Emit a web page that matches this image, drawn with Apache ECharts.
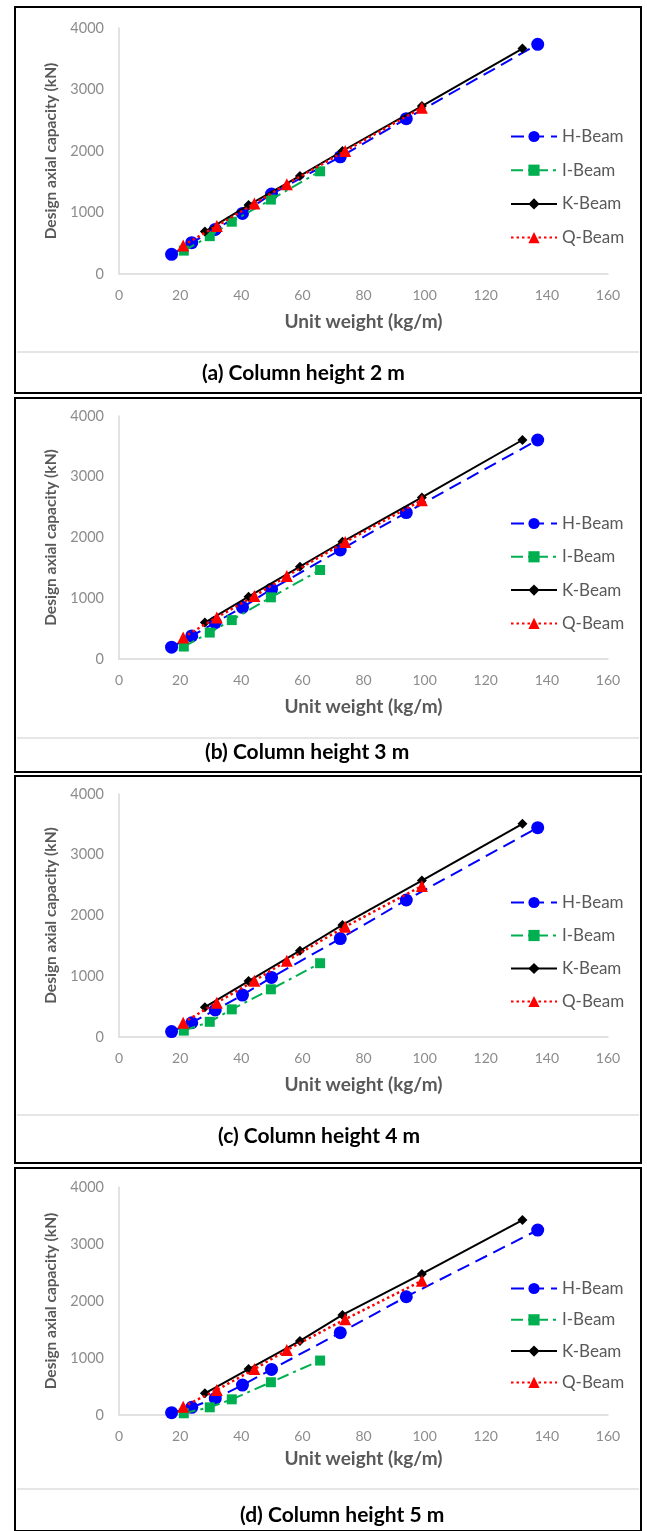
<!DOCTYPE html>
<html>
<head>
<meta charset="utf-8">
<title>Design axial capacity vs unit weight</title>
<script src="https://cdn.jsdelivr.net/npm/echarts@6/dist/echarts.min.js"></script>
<style>
  html, body { margin: 0; padding: 0; background: #fff; }
  #main { width: 647px; height: 1531px; }
</style>
</head>
<body>
<div id="main"></div>
<script>
// series names (legend order)
const beamNames = ['H-Beam', 'I-Beam', 'K-Beam', 'Q-Beam']
const captions = ['(a) Column height 2 m', '(b) Column height 3 m', '(c) Column height 4 m', '(d) Column height 5 m']

// unit weight (kg/m) of each section, same in every panel
const hWeight = [17.2, 23.8, 31.5, 40.4, 49.9, 72.4, 94.0, 137.0]
const iWeight = [21.2, 29.7, 36.9, 49.7, 65.8]
const kWeight = [28.1, 42.4, 59.2, 73.1, 99.1, 132.0]
const qWeight = [21.0, 32.0, 44.3, 54.9, 74.0, 99.1]

// design axial capacity (kN), column height 2 m
const hCap2 = [320, 510, 725, 985, 1300, 1905, 2525, 3735]
const iCap2 = [380, 615, 850, 1210, 1670]
const kCap2 = [690, 1120, 1595, 2000, 2730, 3665]
const qCap2 = [465, 780, 1145, 1460, 2000, 2705]
// 3 m
const hCap3 = [195, 380, 600, 850, 1150, 1795, 2410, 3605]
const iCap3 = [205, 435, 640, 1015, 1465]
const kCap3 = [600, 1025, 1520, 1930, 2660, 3605]
const qCap3 = [355, 685, 1035, 1365, 1925, 2615]
// 4 m
const hCap4 = [90, 235, 445, 690, 980, 1620, 2255, 3445]
const iCap4 = [105, 250, 455, 785, 1215]
const kCap4 = [490, 920, 1420, 1845, 2575, 3510]
const qCap4 = [235, 565, 925, 1255, 1815, 2485]
// 5 m
const hCap5 = [40, 135, 290, 525, 800, 1445, 2075, 3245]
const iCap5 = [30, 135, 275, 575, 955]
const kCap5 = [380, 805, 1300, 1755, 2475, 3420]
const qCap5 = [145, 440, 805, 1140, 1680, 2355]

// axis ranges
const xMin = 0, xMax = 160, xStep = 20
const yMin = 0, yMax = 4000, yStep = 1000

const weights = [hWeight, iWeight, kWeight, qWeight]
const capacity = [
  [hCap2, iCap2, kCap2, qCap2],
  [hCap3, iCap3, kCap3, qCap3],
  [hCap4, iCap4, kCap4, qCap4],
  [hCap5, iCap5, kCap5, qCap5]
]

const font = 'Lato, "Open Sans", sans-serif'
const grey = '#595959'

// look of each series, Excel style
const looks = [
  { color: '#0000ff', symbol: 'circle', size: 13, dash: [13, 7], width: 2 },
  { color: '#00b050', symbol: 'rect', size: 10, dash: [12, 5, 3, 5], width: 2 },
  { color: '#000000', symbol: 'diamond', size: 10, dash: 'solid', width: 2 },
  { color: '#ff0000', symbol: 'triangle', size: 12, dash: [2.5, 3], width: 2.5 }
]

// layout of the four boxed panels
const panels = [
  { top: 7, bottom: 393, gridTop: 28, gridH: 246, legendTop: 123, legendGap: 16.7, sep: 352, capX: 202, capY: 373, nameGap: 38 },
  { top: 398, bottom: 772, gridTop: 416, gridH: 243, legendTop: 510, legendGap: 16.3, sep: 738, capX: 205, capY: 752, nameGap: 38 },
  { top: 776, bottom: 1163, gridTop: 794, gridH: 243, legendTop: 889, legendGap: 16, sep: 1115, capX: 218, capY: 1136, nameGap: 38 },
  { top: 1168, bottom: 1531, gridTop: 1187, gridH: 228, legendTop: 1275, legendGap: 14.3, sep: 1489, capX: 240, capY: 1515, nameGap: 34 }
]

const grid = [], xAxis = [], yAxis = [], legend = [], series = [], graphic = []

panels.forEach((p, n) => {
  grid.push({ left: 119, top: p.gridTop, width: 489, height: p.gridH })
  xAxis.push({
    gridIndex: n, type: 'value', min: xMin, max: xMax, interval: xStep,
    name: 'Unit weight (kg/m)', nameLocation: 'middle', nameGap: p.nameGap,
    nameTextStyle: { color: grey, fontSize: 19, fontWeight: 'bold', fontFamily: font },
    axisLine: { lineStyle: { color: '#d9d9d9', width: 1.5 } },
    axisTick: { show: false },
    splitLine: { show: false },
    axisLabel: { color: '#8c8c8c', fontSize: 14, fontFamily: font, margin: 14 }
  })
  yAxis.push({
    gridIndex: n, type: 'value', min: yMin, max: yMax, interval: yStep,
    name: 'Design axial capacity (kN)', nameLocation: 'middle', nameGap: 60,
    nameTextStyle: { color: grey, fontSize: 15.5, fontWeight: 'bold', fontFamily: font },
    axisLine: { show: true, lineStyle: { color: '#d9d9d9', width: 1.5 } },
    axisTick: { show: false },
    splitLine: { show: false },
    axisLabel: { color: '#8c8c8c', fontSize: 14.5, fontFamily: font, margin: 15, formatter: v => String(v) }
  })
  legend.push({
    orient: 'vertical', left: 505, top: p.legendTop,
    itemWidth: 46, itemHeight: 14, itemGap: p.legendGap,
    selectedMode: false,
    textStyle: { color: grey, fontSize: 17, fontFamily: font },
    data: beamNames
  })
  beamNames.forEach((name, s) => {
    const lk = looks[s]
    const ys = capacity[n][s]
    series.push({
      name: name, type: 'line', xAxisIndex: n, yAxisIndex: n,
      data: weights[s].map((x, i) => [x, ys[i]]),
      symbol: lk.symbol, symbolSize: lk.size, showAllSymbol: true,
      lineStyle: { color: lk.color, type: lk.dash, width: lk.width },
      itemStyle: { color: lk.color },
      z: 2 + s
    })
  })
  // box, separator and caption
  graphic.push({
    type: 'rect', silent: true,
    shape: { x: 15, y: p.top, width: 626, height: p.bottom - p.top },
    style: { fill: null, stroke: '#000', lineWidth: 2 }
  })
  graphic.push({
    type: 'line', silent: true,
    shape: { x1: 17, y1: p.sep, x2: 639, y2: p.sep },
    style: { stroke: '#dedede', lineWidth: 1.5 }
  })
  graphic.push({
    type: 'text', silent: true, x: p.capX, y: p.capY,
    style: { text: captions[n], fill: '#000', fontSize: 21, fontWeight: 'bold', fontFamily: font, verticalAlign: 'middle' }
  })
})

const chart = echarts.init(document.getElementById('main'))
chart.setOption({
  animation: false,
  backgroundColor: '#fff',
  grid: grid,
  xAxis: xAxis,
  yAxis: yAxis,
  legend: legend,
  series: series,
  graphic: graphic
})
</script>
</body>
</html>
